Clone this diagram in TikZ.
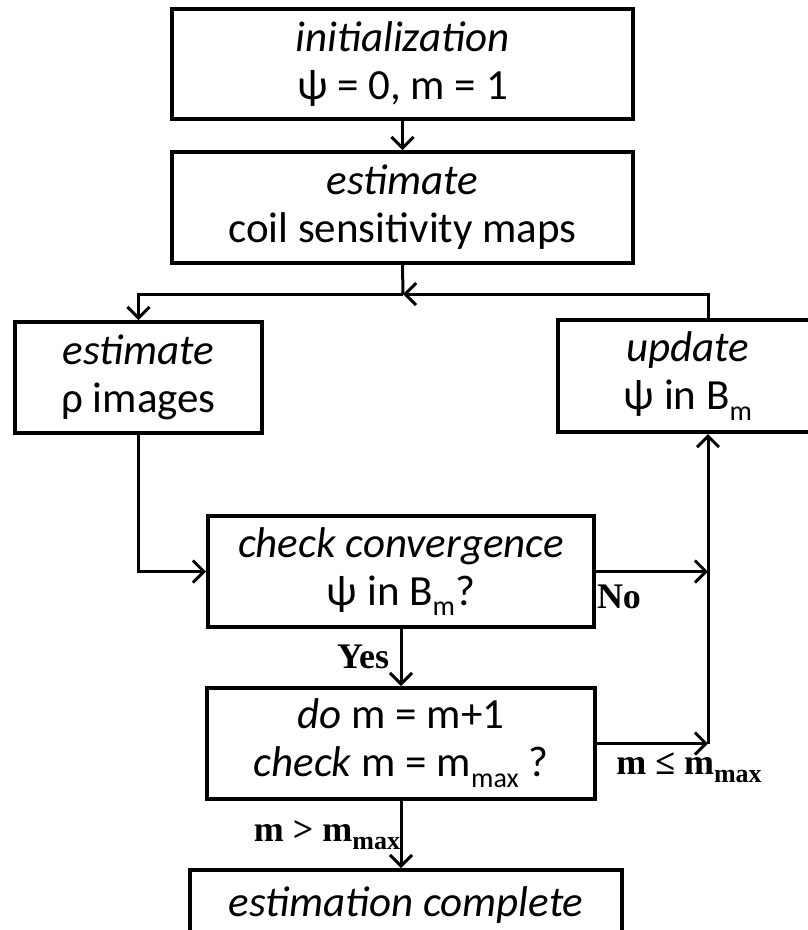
\documentclass[tikz,border=0pt]{standalone}
\usepackage{fontspec}
\usepackage{graphicx}
\setmainfont{Carlito}
\newfontfamily\lblfont{Liberation Serif}
\usetikzlibrary{arrows.meta,calc}
\newcommand\sbm[1]{\raisebox{-0.25em}{\fontsize{28}{28}\selectfont #1}}
\newcommand\lsb[1]{\raisebox{-0.22em}{\fontsize{26}{26}\selectfont #1}}
\tikzset{
  box/.style={draw, line width=4pt, inner sep=0pt, align=center,
    font=\fontsize{43}{48}\selectfont},
  arr/.style={line width=3pt, -{Straight Barb[length=11pt,width=22pt,line width=3pt]}},
  ln/.style={line width=3pt},
  lbl/.style={font=\lblfont\bfseries\fontsize{36}{40}\selectfont, inner sep=0pt}
}
\begin{document}
\begin{tikzpicture}[x=1pt,y=-1pt]
\useasboundingbox (0,0) rectangle (808,930);
\clip (0,0) rectangle (808,930);
% boxes
\node[box, minimum width=461pt, minimum height=110pt] (init) at (402.5,64) {\textit{initialization}\\ψ = 0, m = 1};
\node[box, minimum width=461pt, minimum height=111pt] (coil) at (402.5,207.5) {\textit{estimate}\\coil sensitivity maps};
\node[box, minimum width=247pt, minimum height=111pt] (rho) at (138.5,377.5) {\textit{estimate}\\ρ images};
\node[box, minimum width=260pt, minimum height=112pt] (upd) at (688,376) {\textit{update}\\ψ in B\sbm{m}};
\node[box, minimum width=386pt, minimum height=111pt] (conv) at (401,571.5) {\textit{check convergence}\\ψ in B\sbm{m}?};
\node[box, minimum width=388pt, minimum height=111pt] (dom) at (401,743.5) {\textit{do} m = m+1\\\textit{check} m = m\sbm{max} ?};
\node[box, minimum width=432pt, minimum height=70pt] (fin) at (406,905) {\textit{estimation complete}};
% junctions
\coordinate (J) at (403,294);
\coordinate (R) at (708,294);
% connectors
\draw[arr] (init.south) -- (coil.north);
\draw[ln] (coil.south) -- (J);
\draw[arr] (upd.north -| R) -- (R) -- (J);
\draw[arr] (J) -| (rho.north);
\draw[arr] (rho.south) |- (conv.west);
\draw[arr] (conv.east) -- (conv.east -| R);
\draw[arr] (conv.south) -- (dom.north);
\draw[arr] (dom.east) -- (dom.east -| R);
\draw[arr] (dom.east -| R) -- (upd.south -| R);
\draw[arr] (dom.south) -- (dom.south |- fin.north);
% labels
\node[lbl] (yes) at (363,657) {Yes};
\node[lbl] (no) at (619,597) {No};
\node[lbl] (mle) at (689,768) {m ≤ m\lsb{max}};
\node[lbl] (mgt) at (327,835) {m > m\lsb{max}};
\end{tikzpicture}
\end{document}
